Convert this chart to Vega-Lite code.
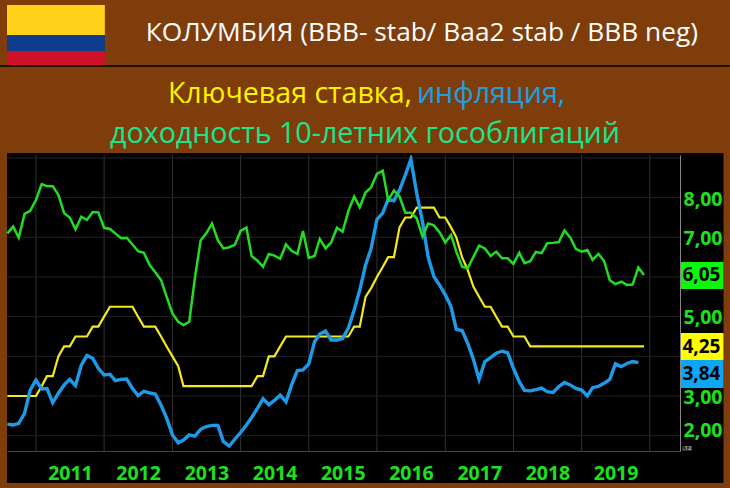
{"$schema":"https://vega.github.io/schema/vega-lite/v6.json","width":673,"height":296,"autosize":"none","padding":{"left":7,"top":155,"right":50,"bottom":37},"background":"#7F3D0C","config":{"view":{"fill":"#000000","stroke":null}},
"data":{"values":[
{"d":"2010-08-01","g":7.10,"b":2.29,"y":3.0},{"d":"2010-09-01","g":7.27,"b":2.27,"y":3.0},{"d":"2010-10-01","g":6.99,"b":2.31,"y":3.0},{"d":"2010-11-01","g":7.59,"b":2.56,"y":3.0},{"d":"2010-12-01","g":7.67,"b":3.15,"y":3.0},
{"d":"2011-01-01","g":7.94,"b":3.40,"y":3.0},{"d":"2011-02-01","g":8.34,"b":3.18,"y":3.25},{"d":"2011-03-01","g":8.29,"b":3.19,"y":3.5},{"d":"2011-04-01","g":8.29,"b":2.83,"y":3.5},{"d":"2011-05-01","g":8.07,"b":3.07,"y":4.0},{"d":"2011-06-01","g":7.61,"b":3.28,"y":4.25},{"d":"2011-07-01","g":7.50,"b":3.42,"y":4.25},{"d":"2011-08-01","g":7.20,"b":3.26,"y":4.5},{"d":"2011-09-01","g":7.52,"b":3.78,"y":4.5},{"d":"2011-10-01","g":7.44,"b":4.02,"y":4.5},{"d":"2011-11-01","g":7.64,"b":3.95,"y":4.75},{"d":"2011-12-01","g":7.63,"b":3.70,"y":4.75},
{"d":"2012-01-01","g":7.24,"b":3.53,"y":5.0},{"d":"2012-02-01","g":7.21,"b":3.55,"y":5.25},{"d":"2012-03-01","g":7.10,"b":3.39,"y":5.25},{"d":"2012-04-01","g":6.98,"b":3.42,"y":5.25},{"d":"2012-05-01","g":6.99,"b":3.43,"y":5.25},{"d":"2012-06-01","g":6.82,"b":3.19,"y":5.25},{"d":"2012-07-01","g":6.65,"b":3.01,"y":5.0},{"d":"2012-08-01","g":6.61,"b":3.12,"y":4.75},{"d":"2012-09-01","g":6.30,"b":3.08,"y":4.75},{"d":"2012-10-01","g":6.12,"b":3.05,"y":4.75},{"d":"2012-11-01","g":5.92,"b":2.77,"y":4.5},{"d":"2012-12-01","g":5.50,"b":2.44,"y":4.25},
{"d":"2013-01-01","g":5.08,"b":2.02,"y":4.0},{"d":"2013-02-01","g":4.87,"b":1.82,"y":3.75},{"d":"2013-03-01","g":4.79,"b":1.89,"y":3.25},{"d":"2013-04-01","g":4.87,"b":2.02,"y":3.25},{"d":"2013-05-01","g":5.97,"b":1.99,"y":3.25},{"d":"2013-06-01","g":6.92,"b":2.16,"y":3.25},{"d":"2013-07-01","g":7.10,"b":2.23,"y":3.25},{"d":"2013-08-01","g":7.35,"b":2.26,"y":3.25},{"d":"2013-09-01","g":6.93,"b":2.26,"y":3.25},{"d":"2013-10-01","g":6.72,"b":1.85,"y":3.25},{"d":"2013-11-01","g":6.75,"b":1.74,"y":3.25},{"d":"2013-12-01","g":6.81,"b":1.91,"y":3.25},
{"d":"2014-01-01","g":7.16,"b":2.08,"y":3.25},{"d":"2014-02-01","g":7.25,"b":2.27,"y":3.25},{"d":"2014-03-01","g":6.53,"b":2.46,"y":3.25},{"d":"2014-04-01","g":6.41,"b":2.69,"y":3.5},{"d":"2014-05-01","g":6.26,"b":2.93,"y":3.5},{"d":"2014-06-01","g":6.58,"b":2.78,"y":4.0},{"d":"2014-07-01","g":6.54,"b":2.89,"y":4.0},{"d":"2014-08-01","g":6.46,"b":3.02,"y":4.25},{"d":"2014-09-01","g":6.82,"b":2.85,"y":4.5},{"d":"2014-10-01","g":6.66,"b":3.28,"y":4.5},{"d":"2014-11-01","g":6.58,"b":3.64,"y":4.5},{"d":"2014-12-01","g":7.16,"b":3.66,"y":4.5},
{"d":"2015-01-01","g":6.48,"b":3.81,"y":4.5},{"d":"2015-02-01","g":6.53,"b":4.37,"y":4.5},{"d":"2015-03-01","g":6.96,"b":4.56,"y":4.5},{"d":"2015-04-01","g":6.72,"b":4.64,"y":4.5},{"d":"2015-05-01","g":6.87,"b":4.41,"y":4.5},{"d":"2015-06-01","g":7.24,"b":4.41,"y":4.5},{"d":"2015-07-01","g":7.14,"b":4.45,"y":4.5},{"d":"2015-08-01","g":7.66,"b":4.71,"y":4.5},{"d":"2015-09-01","g":8.03,"b":5.17,"y":4.75},{"d":"2015-10-01","g":7.76,"b":5.67,"y":4.75},{"d":"2015-11-01","g":8.13,"b":6.30,"y":5.5},{"d":"2015-12-01","g":8.26,"b":6.72,"y":5.72},
{"d":"2016-01-01","g":8.60,"b":7.45,"y":6.0},{"d":"2016-02-01","g":8.68,"b":7.61,"y":6.25},{"d":"2016-03-01","g":7.94,"b":7.96,"y":6.5},{"d":"2016-04-01","g":8.18,"b":7.92,"y":6.5},{"d":"2016-05-01","g":8.03,"b":8.19,"y":7.25},{"d":"2016-06-01","g":7.62,"b":8.57,"y":7.5},{"d":"2016-07-01","g":7.62,"b":8.97,"y":7.5},{"d":"2016-08-01","g":7.48,"b":8.11,"y":7.75},{"d":"2016-09-01","g":7.02,"b":7.39,"y":7.75},{"d":"2016-10-01","g":7.35,"b":6.51,"y":7.75},{"d":"2016-11-01","g":7.30,"b":6.01,"y":7.75},{"d":"2016-12-01","g":7.13,"b":5.80,"y":7.5},
{"d":"2017-01-01","g":6.87,"b":5.55,"y":7.5},{"d":"2017-02-01","g":7.06,"b":5.25,"y":7.25},{"d":"2017-03-01","g":6.64,"b":4.68,"y":7.0},{"d":"2017-04-01","g":6.26,"b":4.65,"y":6.5},{"d":"2017-05-01","g":6.22,"b":4.33,"y":6.18},{"d":"2017-06-01","g":6.51,"b":3.92,"y":5.75},{"d":"2017-07-01","g":6.79,"b":3.42,"y":5.5},{"d":"2017-08-01","g":6.72,"b":3.87,"y":5.25},{"d":"2017-09-01","g":6.53,"b":3.97,"y":5.25},{"d":"2017-10-01","g":6.64,"b":4.08,"y":5.0},{"d":"2017-11-01","g":6.47,"b":4.13,"y":4.75},{"d":"2017-12-01","g":6.47,"b":4.09,"y":4.75},
{"d":"2018-01-01","g":6.33,"b":3.70,"y":4.5},{"d":"2018-02-01","g":6.61,"b":3.36,"y":4.5},{"d":"2018-03-01","g":6.35,"b":3.14,"y":4.5},{"d":"2018-04-01","g":6.40,"b":3.13,"y":4.25},{"d":"2018-05-01","g":6.63,"b":3.16,"y":4.25},{"d":"2018-06-01","g":6.60,"b":3.20,"y":4.25},{"d":"2018-07-01","g":6.85,"b":3.11,"y":4.25},{"d":"2018-08-01","g":6.86,"b":3.09,"y":4.25},{"d":"2018-09-01","g":6.88,"b":3.24,"y":4.25},{"d":"2018-10-01","g":7.17,"b":3.34,"y":4.25},{"d":"2018-11-01","g":7.00,"b":3.28,"y":4.25},{"d":"2018-12-01","g":6.71,"b":3.19,"y":4.25},
{"d":"2019-01-01","g":6.64,"b":3.15,"y":4.25},{"d":"2019-02-01","g":6.68,"b":3.00,"y":4.25},{"d":"2019-03-01","g":6.43,"b":3.21,"y":4.25},{"d":"2019-04-01","g":6.58,"b":3.24,"y":4.25},{"d":"2019-05-01","g":6.41,"b":3.32,"y":4.25},{"d":"2019-06-01","g":5.92,"b":3.42,"y":4.25},{"d":"2019-07-01","g":5.82,"b":3.81,"y":4.25},{"d":"2019-08-01","g":5.88,"b":3.74,"y":4.25},{"d":"2019-09-01","g":5.80,"b":3.82,"y":4.25},{"d":"2019-10-01","g":5.81,"b":3.87,"y":4.25},{"d":"2019-11-01","g":6.24,"b":3.84,"y":4.25},{"d":"2019-12-01","g":6.05,"b":null,"y":4.25}
]},
"layer":[
{"data":{"values":[{"t":"2011-01-01"},{"t":"2012-01-01"},{"t":"2013-01-01"},{"t":"2014-01-01"},{"t":"2015-01-01"},{"t":"2016-01-01"},{"t":"2017-01-01"},{"t":"2018-01-01"},{"t":"2019-01-01"},{"t":"2020-01-01"}]},"mark":{"type":"rule","color":"#333333","strokeWidth":1},"encoding":{"x":{"field":"t","type":"temporal"}}},
{"data":{"values":[{"v":2},{"v":3},{"v":4},{"v":5},{"v":6},{"v":7},{"v":8},{"v":9}]},"mark":{"type":"rule","color":"#222222","strokeWidth":1},"encoding":{"y":{"field":"v","type":"quantitative"}}},
{"mark":{"type":"line","color":"#F2EA1E","strokeWidth":2.2,"interpolate":"linear"},"encoding":{
 "x":{"field":"d","type":"temporal","title":null,"scale":{"domain":[{"year":2010,"month":7,"date":30},{"year":2020,"month":6,"date":11}]},"axis":{"zindex":1,"tickCount":{"interval":"year","step":1},"labelExpr":"year(datum.value)>2019?'':timeFormat(datum.value,'%Y')","labelOffset":34,"labelPadding":13,"labelFont":"Open Sans","labelFontSize":19.5,"labelFontWeight":"bold","labelColor":"#1CE21C","labelBound":false,"labelFlush":false,"labelOverlap":false,"ticks":false,"grid":false,"domain":true,"domainColor":"#444444"}},
 "y":{"field":"y","type":"quantitative","title":null,"scale":{"domain":[1.614,9.075],"nice":false,"zero":false},"axis":{"orient":"right","zindex":1,"values":[2,3,4,5,6,7,8],"labelExpr":"datum.value==4||datum.value==6?'':replace(format(datum.value,'.2f'),'.',',')","labelPadding":3,"labelOffset":{"expr":"datum.value==2?-5:(datum.value==8?2:1)"},"labelFont":"Open Sans","labelFontSize":19.5,"labelFontWeight":"bold","labelColor":"#1CE21C","labelAlign":"left","ticks":false,"grid":false,"domain":true,"domainColor":"#888888"}}}},
{"mark":{"type":"line","color":"#1E9BE8","strokeWidth":3.4},"encoding":{"x":{"field":"d","type":"temporal"},"y":{"field":"b","type":"quantitative"}}},
{"mark":{"type":"line","color":"#22DD22","strokeWidth":2.5},"encoding":{"x":{"field":"d","type":"temporal"},"y":{"field":"g","type":"quantitative"}}},
{"data":{"values":[{}]},"layer":[
 {"mark":{"type":"rect","color":"#000000"},"encoding":{"x":{"datum":{"year":2020,"month":6,"date":11},"type":"temporal"},"x2":{"datum":{"year":2021,"month":1,"date":30}},"y":{"datum":9.126,"type":"quantitative"},"y2":{"datum":0.807}}},
 {"mark":{"type":"rect","color":"#000000"},"encoding":{"x":{"datum":{"year":2010,"month":7,"date":30},"type":"temporal"},"x2":{"datum":{"year":2020,"month":6,"date":11}},"y":{"datum":1.614,"type":"quantitative"},"y2":{"datum":0.807}}},
 {"mark":{"type":"rect","color":"#000000"},"encoding":{"x":{"datum":{"year":2010,"month":7,"date":30},"type":"temporal"},"x2":{"datum":{"year":2020,"month":6,"date":11}},"y":{"datum":9.126,"type":"quantitative"},"y2":{"datum":9.075}}},
 {"mark":{"type":"rect","color":"#FFD21A"},"encoding":{"x":{"datum":{"year":2010,"month":7,"date":30},"type":"temporal"},"x2":{"datum":{"year":2012,"month":1,"date":5}},"y":{"datum":12.857,"type":"quantitative"},"y2":{"datum":12.10}}},
 {"mark":{"type":"rect","color":"#0F3C8C"},"encoding":{"x":{"datum":{"year":2010,"month":7,"date":30},"type":"temporal"},"x2":{"datum":{"year":2012,"month":1,"date":5}},"y":{"datum":12.10,"type":"quantitative"},"y2":{"datum":11.684}}},
 {"mark":{"type":"rect","color":"#CE1126"},"encoding":{"x":{"datum":{"year":2010,"month":7,"date":30},"type":"temporal"},"x2":{"datum":{"year":2012,"month":1,"date":5}},"y":{"datum":11.684,"type":"quantitative"},"y2":{"datum":11.344}}},
 {"mark":{"type":"rule","color":"#000000","strokeWidth":1.5},"encoding":{"x":{"datum":{"year":2010,"month":6,"date":22},"type":"temporal"},"x2":{"datum":{"year":2021,"month":3,"date":5}},"y":{"datum":11.319,"type":"quantitative"}}},
 {"mark":{"type":"text","text":"КОЛУМБИЯ (BBB- stab/ Baa2 stab / BBB neg)","font":"Open Sans","fontSize":26.3,"color":"#FFFFFF"},"encoding":{"x":{"datum":{"year":2016,"month":8,"date":29},"type":"temporal"},"y":{"datum":12.14,"type":"quantitative"}}},
 {"mark":{"type":"text","text":"Ключевая ставка,","font":"Open Sans","fontSize":28.6,"color":"#FFF200"},"encoding":{"x":{"datum":{"year":2014,"month":9,"date":22},"type":"temporal"},"y":{"datum":10.6,"type":"quantitative"}}},
 {"mark":{"type":"text","text":"инфляция,","font":"Open Sans","fontSize":28.6,"color":"#1BA1E2"},"encoding":{"x":{"datum":{"year":2017,"month":9,"date":3},"type":"temporal"},"y":{"datum":10.6,"type":"quantitative"}}},
 {"mark":{"type":"text","text":"доходность 10-летних гособлигаций","font":"Open Sans","fontSize":28.6,"color":"#19E68C"},"encoding":{"x":{"datum":{"year":2015,"month":10,"date":29},"type":"temporal"},"y":{"datum":9.605,"type":"quantitative"}}},
 {"mark":{"type":"rect","color":"#0CF50C"},"encoding":{"x":{"datum":{"year":2020,"month":6,"date":11},"type":"temporal"},"x2":{"datum":{"year":2021,"month":1,"date":30}},"y":{"datum":6.378,"type":"quantitative"},"y2":{"datum":5.697}}},
 {"mark":{"type":"rect","color":"#FFFF00"},"encoding":{"x":{"datum":{"year":2020,"month":6,"date":11},"type":"temporal"},"x2":{"datum":{"year":2021,"month":1,"date":30}},"y":{"datum":4.588,"type":"quantitative"},"y2":{"datum":3.908}}},
 {"mark":{"type":"rect","color":"#0FA5F5"},"encoding":{"x":{"datum":{"year":2020,"month":6,"date":11},"type":"temporal"},"x2":{"datum":{"year":2021,"month":1,"date":30}},"y":{"datum":3.908,"type":"quantitative"},"y2":{"datum":3.202}}},
 {"mark":{"type":"text","text":"6,05","font":"Open Sans","fontSize":19,"fontWeight":"bold","color":"#000000"},"encoding":{"x":{"datum":{"year":2020,"month":10,"date":4},"type":"temporal"},"y":{"datum":6.04,"type":"quantitative"}}},
 {"mark":{"type":"text","text":"4,25","font":"Open Sans","fontSize":19,"fontWeight":"bold","color":"#000000"},"encoding":{"x":{"datum":{"year":2020,"month":10,"date":4},"type":"temporal"},"y":{"datum":4.248,"type":"quantitative"}}},
 {"mark":{"type":"text","text":"3,84","font":"Open Sans","fontSize":19,"fontWeight":"bold","color":"#000000"},"encoding":{"x":{"datum":{"year":2020,"month":10,"date":4},"type":"temporal"},"y":{"datum":3.555,"type":"quantitative"}}},
 {"mark":{"type":"rect","color":"#333333"},"encoding":{"x":{"datum":{"year":2020,"month":6,"date":22},"type":"temporal"},"x2":{"datum":{"year":2020,"month":8,"date":15}},"y":{"datum":1.74,"type":"quantitative"},"y2":{"datum":1.614}}},
 {"mark":{"type":"text","text":".12","font":"Open Sans","fontSize":6,"color":"#DDDDDD"},"encoding":{"x":{"datum":{"year":2020,"month":7,"date":19},"type":"temporal"},"y":{"datum":1.68,"type":"quantitative"}}}
]}
]}
